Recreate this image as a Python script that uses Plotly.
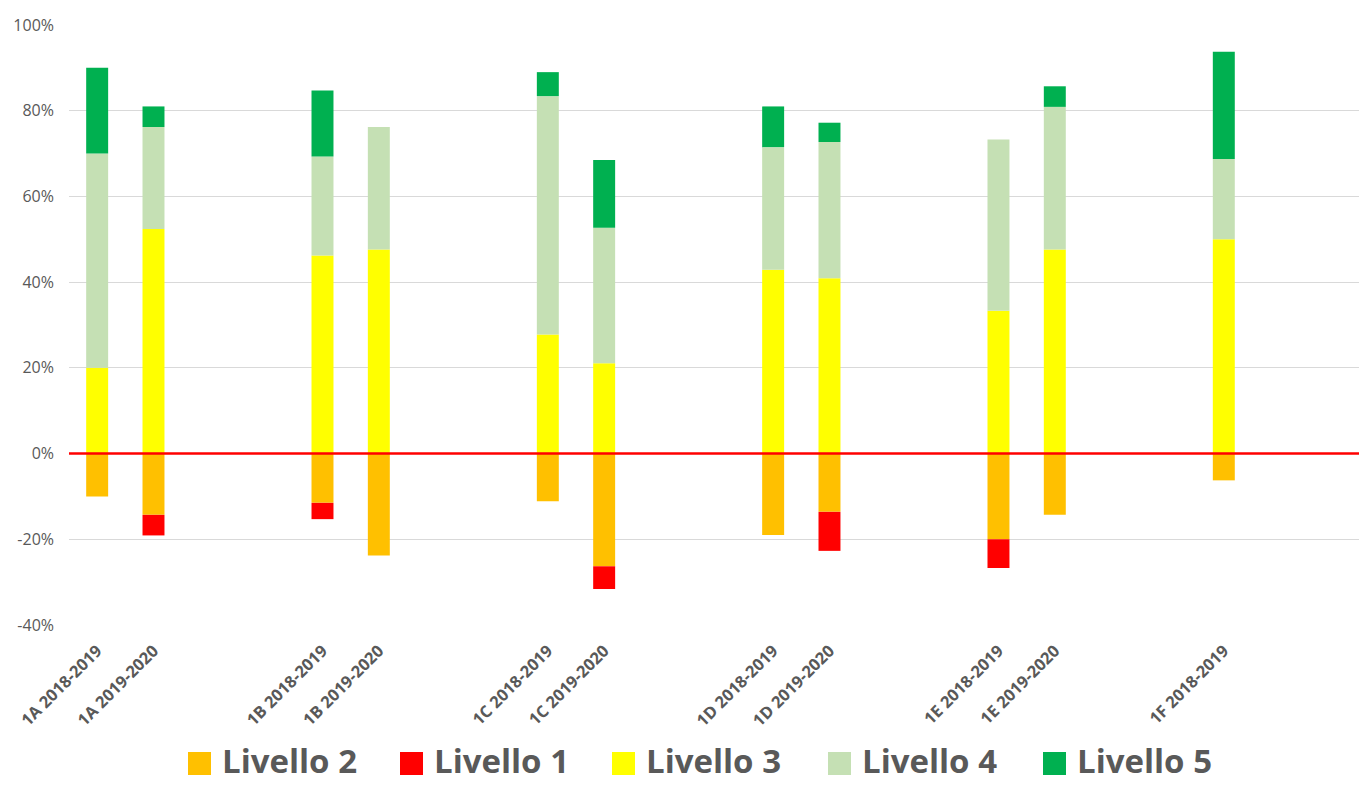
import plotly.graph_objects as go

# ---- data (percent of students) ----
categorie = ["1A 2018-2019", "1A 2019-2020", " ", "  ",
             "1B 2018-2019", "1B 2019-2020", "   ", "    ",
             "1C 2018-2019", "1C 2019-2020", "     ", "      ",
             "1D 2018-2019", "1D 2019-2020", "       ", "        ",
             "1E 2018-2019", "1E 2019-2020", "         ", "          ",
             "1F 2018-2019"]

livello_2 = [-10.0, -14.3, None, None, -11.5, -23.8, None, None, -11.1, -26.3, None, None,
             -19.0, -13.6, None, None, -20.0, -14.3, None, None, -6.25]
livello_1 = [None, -4.8, None, None, -3.8, None, None, None, None, -5.3, None, None,
             None, -9.1, None, None, -6.7, None, None, None, None]
livello_3 = [20.0, 52.4, None, None, 46.2, 47.6, None, None, 27.8, 21.1, None, None,
             42.9, 40.9, None, None, 33.3, 47.6, None, None, 50.0]
livello_4 = [50.0, 23.8, None, None, 23.1, 28.6, None, None, 55.6, 31.6, None, None,
             28.6, 31.8, None, None, 40.0, 33.3, None, None, 18.75]
livello_5 = [20.0, 4.8, None, None, 15.4, None, None, None, 5.6, 15.8, None, None,
             9.5, 4.5, None, None, None, 4.8, None, None, 25.0]

serie_nomi = ["Livello 2", "Livello 1", "Livello 3", "Livello 4", "Livello 5"]
serie_valori = [livello_2, livello_1, livello_3, livello_4, livello_5]
serie_colori = ["#FFC000", "#FF0000", "#FFFF00", "#C5E0B4", "#00B050"]

y_ticks = [-40, -20, 0, 20, 40, 60, 80, 100]

# ---- layout geometry ----
W, H = 1359, 785
ML, MR, MT, MB = 69, 0, 25, 160
PW, PH = W - ML - MR, H - MT - MB
GRAY = "#595959"

def px_x(p):
    return (p - ML) / PW

def px_y(p):
    return (H - MB - p) / PH

fig = go.Figure()
for nome, vals, col in zip(serie_nomi, serie_valori, serie_colori):
    fig.add_trace(go.Bar(x=categorie, y=vals, name=nome, marker=dict(color=col, line=dict(width=0)),
                         showlegend=False, hoverinfo="x+y+name"))

# red zero line drawn above the bars
fig.add_shape(type="line", xref="paper", yref="y", x0=0, x1=1, y0=0, y1=0,
              line=dict(color="#FF0000", width=2.5), layer="above")

# manual legend (large squares + bold text)
legend_left = [188, 400, 612, 828, 1043]
for nome, col, lx in zip(serie_nomi, serie_colori, legend_left):
    fig.add_shape(type="rect", xref="paper", yref="paper",
                  x0=px_x(lx), x1=px_x(lx + 23), y0=px_y(775), y1=px_y(752),
                  fillcolor=col, line=dict(width=0))
    fig.add_annotation(xref="paper", yref="paper", x=px_x(lx + 32), y=px_y(785),
                       xanchor="left", yanchor="bottom", text=nome, showarrow=False,
                       font=dict(family="Open Sans", size=33, color=GRAY, weight="bold"))

fig.update_layout(
    width=W, height=H,
    margin=dict(l=ML, r=MR, t=MT, b=MB, pad=0),
    barmode="relative",
    bargap=0.61,
    plot_bgcolor="white", paper_bgcolor="white",
    font=dict(family="Open Sans", color=GRAY),
)
fig.update_xaxes(
    type="category", categoryorder="array", categoryarray=categorie,
    range=[-0.5, 22.4], showgrid=False, showline=False, zeroline=False,
    ticks="", tickangle=-45, ticklabelstandoff=12,
    tickfont=dict(family="Open Sans", size=16.5, color=GRAY, weight="bold"),
)
fig.update_yaxes(
    range=[-40, 100], tickvals=y_ticks, ticktext=[f"{v}%" for v in y_ticks],
    showgrid=True, gridcolor="#D9D9D9", gridwidth=1, zeroline=False, showline=False,
    ticks="", ticklabelstandoff=14,
    tickfont=dict(family="Open Sans", size=16, color=GRAY),
)

fig.write_html("out.html", config={"displayModeBar": False},
               post_script="document.body.style.margin='0';document.body.style.overflow='hidden';")
